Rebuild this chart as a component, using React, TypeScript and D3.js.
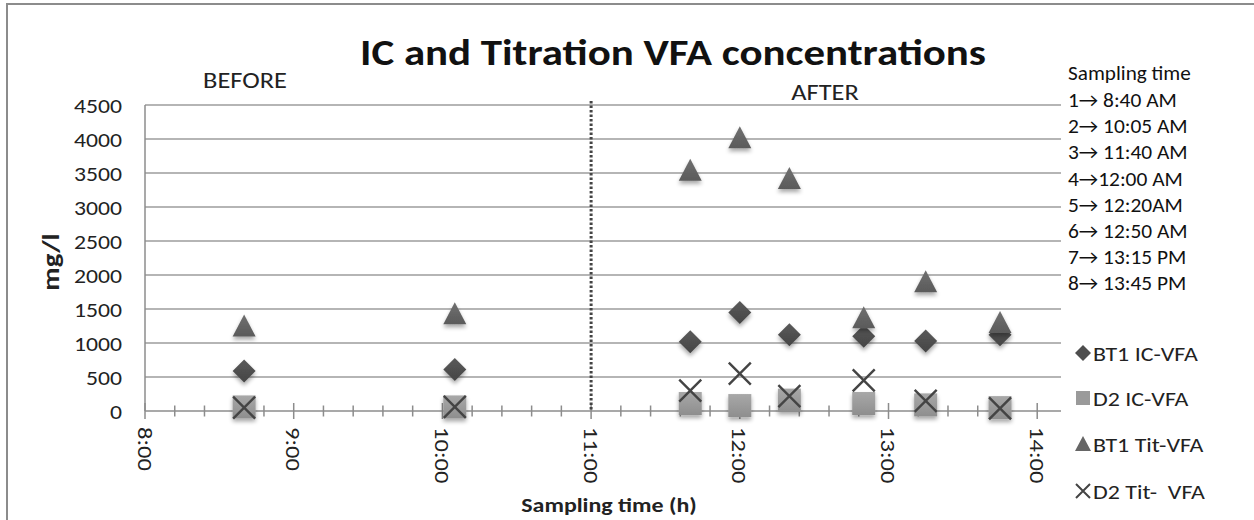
import React from "react";
import * as d3 from "d3";

const times = ["8:40", "10:05", "11:40", "12:00", "12:20", "12:50", "13:15", "13:45"];
const bt1IC = [590, 610, 1020, 1450, 1120, 1100, 1030, 1120];
const d2IC = [60, 60, 110, 80, 160, 110, 90, 50];
const bt1Tit = [1250, 1430, 3540, 4020, 3420, 1370, 1900, 1300];
const d2Tit = [50, 60, 300, 550, 220, 450, 150, 40];
const yTicks = [0, 500, 1000, 1500, 2000, 2500, 3000, 3500, 4000, 4500];
const xTickLabels = ["8:00", "9:00", "10:00", "11:00", "12:00", "13:00", "14:00"];
const samplingLines = [
  "1\u2192 8:40 AM",
  "2\u2192 10:05 AM",
  "3\u2192 11:40 AM",
  "4\u219212:00 AM",
  "5\u2192 12:20AM",
  "6\u2192 12:50 AM",
  "7\u2192 13:15 PM",
  "8\u2192 13:45 PM",
];
const legendNames = ["BT1 IC-VFA", "D2 IC-VFA", "BT1 Tit-VFA", "D2 Tit-  VFA"];

const toH = (s: string) => {
  const [h, m] = s.split(":").map(Number);
  return h + m / 60;
};

const FONT = "Carlito, Lato, 'Open Sans', sans-serif";

const x = d3.scaleLinear().domain([8, 14.16]).range([145, 1061]);
const y = d3.scaleLinear().domain([0, 4500]).range([411, 105]);

const S = 11.5;

function T({
  x,
  y,
  sx = 1.15,
  rot = 0,
  anchor = "start",
  size = 21,
  bold = false,
  fill = "#222",
  children,
}: any) {
  return (
    <text
      transform={`translate(${x},${y}) rotate(${rot}) scale(${sx},1)`}
      textAnchor={anchor}
      fontSize={size}
      fontWeight={bold ? "bold" : "normal"}
      fill={fill}
      style={{ whiteSpace: "pre" }}
    >
      {children}
    </text>
  );
}

function Diamond({ cx, cy }: { cx: number; cy: number }) {
  return (
    <path
      d={`M${cx},${cy - S}L${cx + S},${cy}L${cx},${cy + S}L${cx - S},${cy}Z`}
      fill="url(#gDia)"
      filter="url(#sh)"
    />
  );
}
function Square({ cx, cy }: { cx: number; cy: number }) {
  return (
    <rect x={cx - S} y={cy - S} width={2 * S} height={2 * S} fill="url(#gSq)" filter="url(#sh)" />
  );
}
function Tri({ cx, cy }: { cx: number; cy: number }) {
  return (
    <path
      d={`M${cx},${cy - S}L${cx + S},${cy + S - 1}L${cx - S},${cy + S - 1}Z`}
      fill="url(#gTri)"
      filter="url(#sh)"
    />
  );
}
function Cross({ cx, cy }: { cx: number; cy: number }) {
  const r = 11;
  return (
    <path
      d={`M${cx - r},${cy - r}L${cx + r},${cy + r}M${cx + r},${cy - r}L${cx - r},${cy + r}`}
      stroke="#444"
      strokeWidth={2.4}
      fill="none"
    />
  );
}

export default function App() {
  const majors = d3.range(8, 14.001, 1);
  const minors = d3.range(8, 14.16, 0.2).filter((v) => Math.abs(v - Math.round(v)) > 0.01);
  const xs = times.map(toH);
  return (
    <svg
      width={1254}
      height={520}
      style={{ position: "absolute", left: 0, top: 0, background: "#fff" }}
      fontFamily={FONT}
    >
      <defs>
        <filter id="sh" x="-50%" y="-50%" width="200%" height="220%">
          <feGaussianBlur in="SourceAlpha" stdDeviation="2" />
          <feOffset dy="3" result="b" />
          <feComponentTransfer>
            <feFuncA type="linear" slope="0.35" />
          </feComponentTransfer>
          <feMerge>
            <feMergeNode />
            <feMergeNode in="SourceGraphic" />
          </feMerge>
        </filter>
        <linearGradient id="gDia" x1="0" y1="0" x2="0" y2="1">
          <stop offset="0" stopColor="#5a5a5a" />
          <stop offset="1" stopColor="#454545" />
        </linearGradient>
        <linearGradient id="gSq" x1="0" y1="0" x2="0" y2="1">
          <stop offset="0" stopColor="#a8a8a8" />
          <stop offset="1" stopColor="#8e8e8e" />
        </linearGradient>
        <linearGradient id="gTri" x1="0" y1="0" x2="0" y2="1">
          <stop offset="0" stopColor="#707070" />
          <stop offset="1" stopColor="#5a5a5a" />
        </linearGradient>
      </defs>
      <rect x={7} y={4} width={1260} height={530} fill="#fff" stroke="#8c8c8c" strokeWidth={2} />

      <T x={673} y={65} anchor="middle" size={37} bold fill="#111" sx={1.16}>
        IC and Titration VFA concentrations
      </T>
      <T x={245} y={88} anchor="middle" size={22} sx={1.2}>BEFORE</T>
      <T x={825} y={100} anchor="middle" size={22} sx={1.2}>AFTER</T>

      {/* gridlines */}
      {yTicks.slice(1).map((t) => (
        <line key={t} x1={145} x2={1061} y1={y(t)} y2={y(t)} stroke="#9c9c9c" strokeWidth={1.5} />
      ))}
      {yTicks.map((t) => (
        <T key={t} x={122} y={y(t) + 7.5} anchor="end" size={21} sx={1.13}>
          {t}
        </T>
      ))}
      <line x1={145} x2={145} y1={105} y2={411} stroke="#8c8c8c" strokeWidth={1.5} />
      <line x1={145} x2={1061} y1={411} y2={411} stroke="#8c8c8c" strokeWidth={1.5} />
      {majors.map((m) => (
        <line key={m} x1={x(m)} x2={x(m)} y1={403} y2={419} stroke="#8c8c8c" strokeWidth={1.5} />
      ))}
      {minors.map((m) => (
        <line key={m} x1={x(m)} x2={x(m)} y1={405.5} y2={416.5} stroke="#8c8c8c" strokeWidth={1.5} />
      ))}
      {xTickLabels.map((l) => (
        <T key={l} x={x(toH(l)) - 7.5} y={427} rot={90} size={21} sx={1.17}>
          {l}
        </T>
      ))}
      <T x={609} y={512} anchor="middle" size={21} bold sx={1.14}>
        Sampling time (h)
      </T>
      <T x={59} y={262} rot={-90} anchor="middle" size={24} bold sx={1.2}>
        mg/l
      </T>

      {/* dotted separator */}
      <line
        x1={x(11)}
        x2={x(11)}
        y1={101}
        y2={411}
        stroke="#444"
        strokeWidth={3}
        strokeDasharray="2.5 2"
      />

      {/* series */}
      {xs.map((h, i) => <Diamond key={"d" + i} cx={x(h)} cy={y(bt1IC[i])} />)}
      {xs.map((h, i) => <Square key={"s" + i} cx={x(h)} cy={y(d2IC[i])} />)}
      {xs.map((h, i) => <Tri key={"t" + i} cx={x(h)} cy={y(bt1Tit[i])} />)}
      {xs.map((h, i) => <Cross key={"c" + i} cx={x(h)} cy={y(d2Tit[i])} />)}

      {/* sampling time notes */}
      <T x={1068} y={80} size={20} sx={1.06} fill="#111">Sampling time</T>
      {samplingLines.map((s, i) => (
        <T key={s} x={1068} y={107 + i * 26.2} size={20} sx={1.07} fill="#111">
          {s}
        </T>
      ))}

      {/* legend */}
      {legendNames.map((n, i) => {
        const cy = [353, 398, 444, 491][i];
        const cx = 1083;
        const s = 8;
        let mk;
        if (i === 0)
          mk = <path d={`M${cx},${cy - s}L${cx + s},${cy}L${cx},${cy + s}L${cx - s},${cy}Z`} fill="#4e4e4e" />;
        else if (i === 1) mk = <rect x={cx - 7} y={cy - 7} width={14} height={14} fill="#9a9a9a" />;
        else if (i === 2)
          mk = <path d={`M${cx},${cy - 8}L${cx + 8},${cy + 7}L${cx - 8},${cy + 7}Z`} fill="#666" />;
        else
          mk = (
            <path
              d={`M${cx - 7},${cy - 7}L${cx + 7},${cy + 7}M${cx + 7},${cy - 7}L${cx - 7},${cy + 7}`}
              stroke="#444"
              strokeWidth={2}
            />
          );
        return (
          <g key={n}>
            {mk}
            <T x={1093} y={cy + 7.5} size={21} sx={1.14}>
              {n}
            </T>
          </g>
        );
      })}
    </svg>
  );
}
